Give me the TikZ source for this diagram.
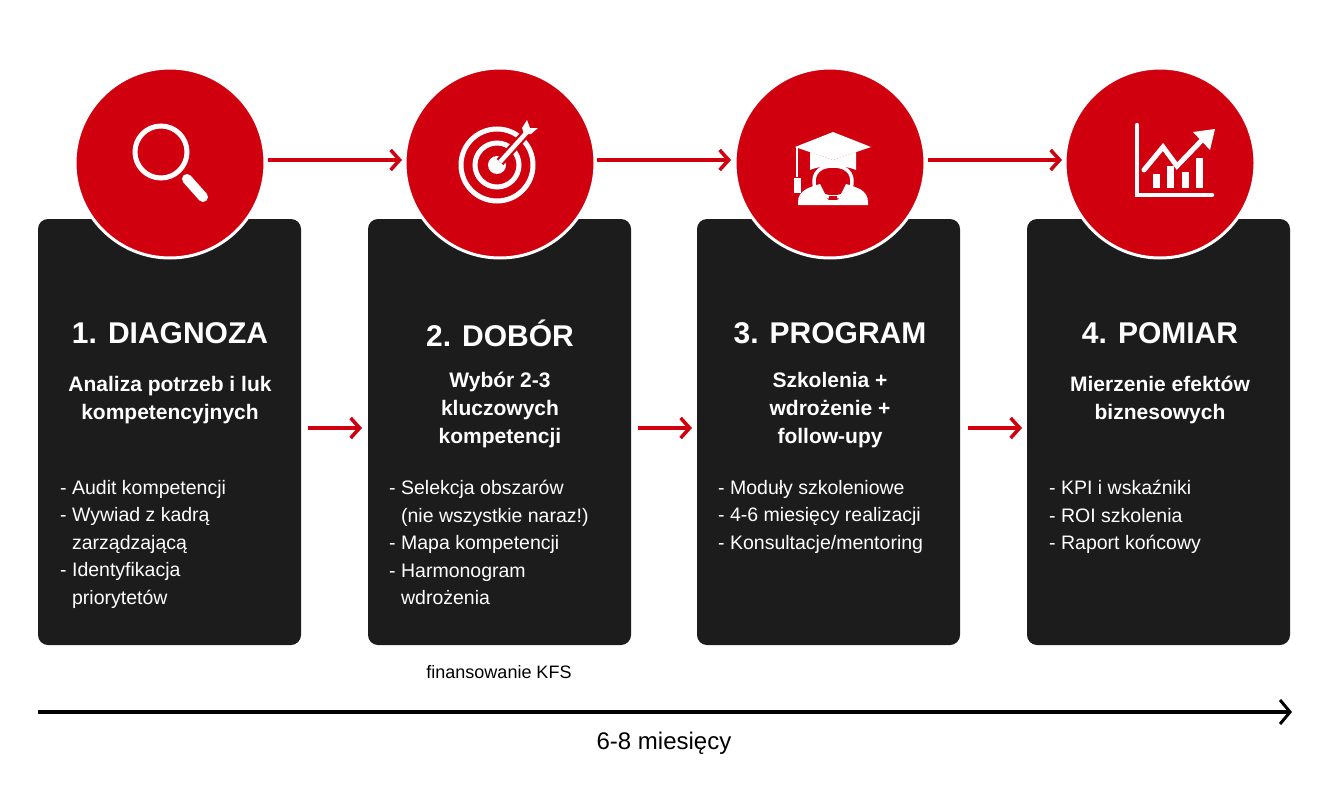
\documentclass[tikz,border=0pt]{standalone}
\usepackage{fontspec}
\setmainfont{Liberation Sans}
\usetikzlibrary{arrows.meta}
\definecolor{kred}{HTML}{D0000E}
\definecolor{kbox}{HTML}{1C1C1C}
\begin{document}
\begin{tikzpicture}[x=1pt,y=-1pt,
  card/.style={fill=kbox,rounded corners=10pt},
  disc/.style={circle,fill=kred,draw=white,line width=3pt,minimum size=190pt,inner sep=0pt},
  flow/.style={draw=kred,line width=4pt,-{Straight Barb[length=9pt,width=20pt,line width=3.5pt]}},
  ttl/.style={text=white,font=\bfseries\fontsize{30}{36}\selectfont,anchor=center},
  sub/.style={text=white,font=\bfseries\fontsize{21}{28}\selectfont,align=center,anchor=north},
  bul/.style={text=white,font=\fontsize{19.5}{27.5}\selectfont,align=left,anchor=north west,inner sep=0pt},
  ico/.style={white,line width=5pt}]
\useasboundingbox (0,0) rectangle (1328,800);
\fill[white] (0,0) rectangle (1328,800);
% cards
\foreach \i/\x in {1/38,2/368,3/697,4/1027}{
  \path[card] (\x,219) rectangle ++(263,426);
  \coordinate (c\i) at (\x+131.5,0);
}
% circles
\node[disc] (d1) at (170,163) {};
\node[disc] (d2) at (500,163) {};
\node[disc] (d3) at (830,163) {};
\node[disc] (d4) at (1160,163) {};
% top arrows
\coordinate (a1s) at (268,160); \coordinate (a1e) at (402,160);
\coordinate (a2s) at (597,160); \coordinate (a2e) at (731,160);
\coordinate (a3s) at (928,160); \coordinate (a3e) at (1062,160);
\draw[flow] (a1s) -- (a1e);
\draw[flow] (a2s) -- (a2e);
\draw[flow] (a3s) -- (a3e);
% mid arrows
\coordinate (m1s) at (308,428); \coordinate (m1e) at (362,428);
\coordinate (m2s) at (638,428); \coordinate (m2e) at (692,428);
\coordinate (m3s) at (968,428); \coordinate (m3e) at (1022,428);
\draw[flow] (m1s) -- (m1e);
\draw[flow] (m2s) -- (m2e);
\draw[flow] (m3s) -- (m3e);
% icon 1 magnifier
\draw[ico] (161,152) circle (26);
\draw[white,line width=10pt,line cap=round] (187,179) -- (203,197);
% icon 2 target
\draw[ico] (497,165) circle (36);
\draw[ico] (497,165) circle (22);
\fill[white] (497,165) circle (9);
\draw[kred,line width=9pt] (500,162) -- (528,131);
\draw[white,line width=4.5pt] (500,162) -- (528,131);
\fill[white] (522,128) -- (527,120) -- (530,128) -- (538,128) -- (531,134) -- (524,134) -- cycle;
% icon 3 graduate
\fill[white] (795,147) -- (833,132) -- (871,147) -- (833,160) -- cycle;
\fill[white] (810,152) -- (810,170) .. controls (820,165) and (846,165) .. (856,170) -- (856,152) -- (833,160) -- cycle;
\draw[white,line width=2pt] (797,147) -- (797,177);
\fill[white] (794,178) rectangle (801,193);
\draw[white,line width=3.5pt] (833,166) .. controls (815,166) and (812,178) .. (815,188) .. controls (820,200) and (846,200) .. (851,188) .. controls (854,178) and (851,166) .. (833,166);
\fill[white] (798,202) .. controls (798,190) and (810,187) .. (820,184) -- (828,200) -- (833,197) -- (838,200) -- (846,184) .. controls (856,187) and (868,190) .. (868,202) -- (868,205) -- (798,205) -- cycle;
\fill[kred] (829,196) rectangle (837,200);
% icon 4 chart
\draw[white,line width=4.5pt,line cap=round] (1137,125) -- (1137,195) -- (1212,195);
\foreach \bx/\bt in {1153/174,1167/166,1182/172,1196/158}{\fill[white] (\bx,\bt) rectangle (\bx+7,188);}
\draw[white,line width=5pt,line cap=round] (1144,170) -- (1163,147) -- (1177,166) -- (1204,138);
\fill[white] (1193,132) -- (1215,129) -- (1210,150) -- cycle;
% titles
\node[ttl] (t1) at (170,333) {1. DIAGNOZA};
\node[ttl] (t2) at (500,333) {2. DOBÓR};
\node[ttl] (t3) at (830,333) {3. PROGRAM};
\node[ttl] (t4) at (1160,333) {4. POMIAR};
\node[sub] (s1) at (170,373) {Analiza potrzeb i luk\\kompetencyjnych};
\node[sub] (s2) at (500,369) {Wybór 2-3\\kluczowych\\kompetencji};
\node[sub] (s3) at (830,369) {Szkolenia +\\wdrożenie +\\follow-upy};
\node[sub] (s4) at (1160,373) {Mierzenie efektów\\biznesowych};
\node[bul] (b1) at (60,480) {- Audit kompetencji\\- Wywiad z kadrą\\\phantom{- }zarządzającą\\- Identyfikacja\\\phantom{- }priorytetów};
\node[bul] (b2) at (389,480) {- Selekcja obszarów\\\phantom{- }(nie wszystkie naraz!)\\- Mapa kompetencji\\- Harmonogram\\\phantom{- }wdrożenia};
\node[bul] (b3) at (718,480) {- Moduły szkoleniowe\\- 4-6 miesięcy realizacji\\- Konsultacje/mentoring};
\node[bul] (b4) at (1049,480) {- KPI i wskaźniki\\- ROI szkolenia\\- Raport końcowy};
% bottom
\node[font=\fontsize{18}{22}\selectfont] (kfs) at (499,672) {finansowanie KFS};
\coordinate (ts) at (38,712); \coordinate (te) at (1292,712);
\draw[line width=3.5pt,-{Straight Barb[length=10pt,width=24pt,line width=3pt]}] (ts) -- (te);
\node[font=\fontsize{24}{28}\selectfont] (dur) at (664,743) {6-8 miesięcy};
\end{tikzpicture}
\end{document}
